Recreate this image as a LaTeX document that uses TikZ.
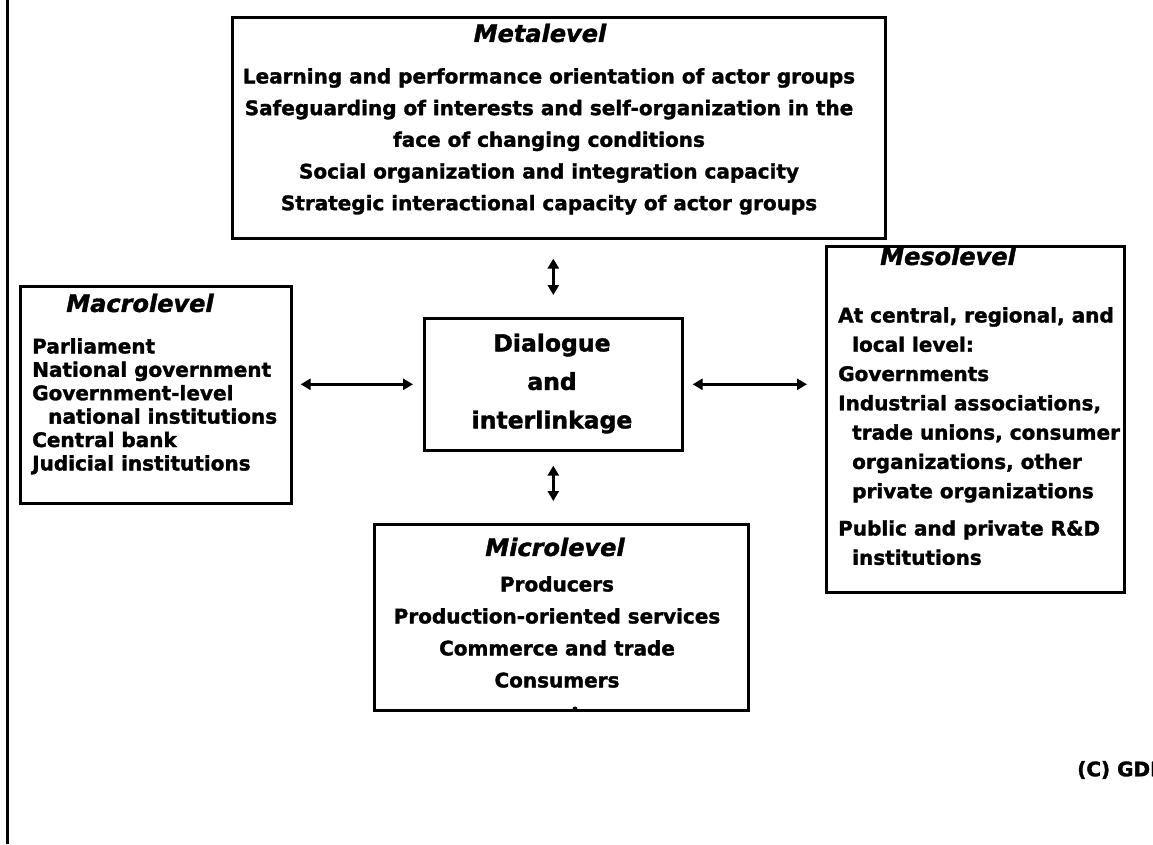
\documentclass[tikz,border=0pt]{standalone}
\usepackage{fontspec}
\setmainfont{DejaVu Sans}[BoldFeatures={FakeBold=1.6}, BoldItalicFeatures={FakeBold=1.6}]
\usetikzlibrary{arrows.meta}
\begin{document}
\begin{tikzpicture}[x=1pt,y=-1pt,
  box/.style={draw, line width=2.6pt, inner sep=0pt, anchor=north west},
  body/.style={font=\fontsize{20}{31.7}\selectfont\bfseries, inner sep=0pt},
  ttl/.style={font=\fontsize{24}{28}\selectfont\bfseries\itshape, inner sep=0pt},
  dbl/.style={line width=2.6pt, {Triangle[length=10pt,width=11pt]}-{Triangle[length=10pt,width=11pt]}}]
\useasboundingbox (0,0) rectangle (1153,844);
\clip (0,0) rectangle (1153,844);
% left edge rule
\draw[line width=3pt] (7,0) -- (7,844);
% boxes
\node[box, minimum width=653pt, minimum height=221pt] (meta) at (231,16) {};
\node[box, minimum width=271pt, minimum height=217pt] (macro) at (19,285) {};
\node[box, minimum width=258pt, minimum height=132pt] (dia) at (423,317) {};
\node[box, minimum width=298pt, minimum height=346pt] (meso) at (825,245) {};
\node[box, minimum width=374pt, minimum height=186pt] (micro) at (373,523) {};
% texts
\node[ttl] (metaT) at (540,33) {Metalevel};
\node[body, anchor=north, align=center] (metaB) at (549,68)
  {Learning and performance orientation of actor groups\\
   Safeguarding of interests and self-organization in the\\
   face of changing conditions\\
   Social organization and integration capacity\\
   Strategic interactional capacity of actor groups};
\node[ttl] (macroT) at (140,303) {Macrolevel};
\node[body, anchor=north west, align=left, font=\fontsize{20}{23.4}\selectfont\bfseries] (macroB) at (32,338)
  {Parliament\\
   National government\\
   Government-level\\
   \hspace*{16pt}national institutions\\
   Central bank\\
   Judicial institutions};
\node[inner sep=0pt, align=center, font=\fontsize{23.5}{38.5}\selectfont\bfseries] (diaT) at (552,383.5)
  {Dialogue\\and\\interlinkage};
\node[ttl] (mesoT) at (948,256) {Mesolevel};
\node[body, anchor=north west, align=left, font=\fontsize{20}{29.3}\selectfont\bfseries] (mesoB) at (838,307)
  {At central, regional, and\\
   \hspace*{14pt}local level:\\
   Governments\\
   Industrial associations,\\
   \hspace*{14pt}trade unions, consumer\\
   \hspace*{14pt}organizations, other\\
   \hspace*{14pt}private organizations\\[8pt]
   Public and private R\&D\\
   \hspace*{14pt}institutions};
\node[ttl] (microT) at (555,547) {Microlevel};
\node[body, anchor=north, align=center, font=\fontsize{20}{32}\selectfont\bfseries] (microB) at (557,576)
  {Producers\\
   Production-oriented services\\
   Commerce and trade\\
   Consumers};
\fill (575,709) circle (2.5pt);
\node[body, anchor=west] (copy) at (1077,770) {(C) GDI};
% connectors
\draw[dbl, shorten <=19pt, shorten >=22pt] (meta.south -| dia.north) -- (dia.north);
\draw[dbl, shorten <=14pt, shorten >=22pt] (dia.south) -- (micro.north -| dia.south);
\draw[dbl, shorten <=8pt, shorten >=10pt] (macro.east |- dia.west) -- (dia.west);
\draw[dbl, shorten <=9pt, shorten >=18pt] (dia.east) -- (meso.west |- dia.east);
\end{tikzpicture}
\end{document}
